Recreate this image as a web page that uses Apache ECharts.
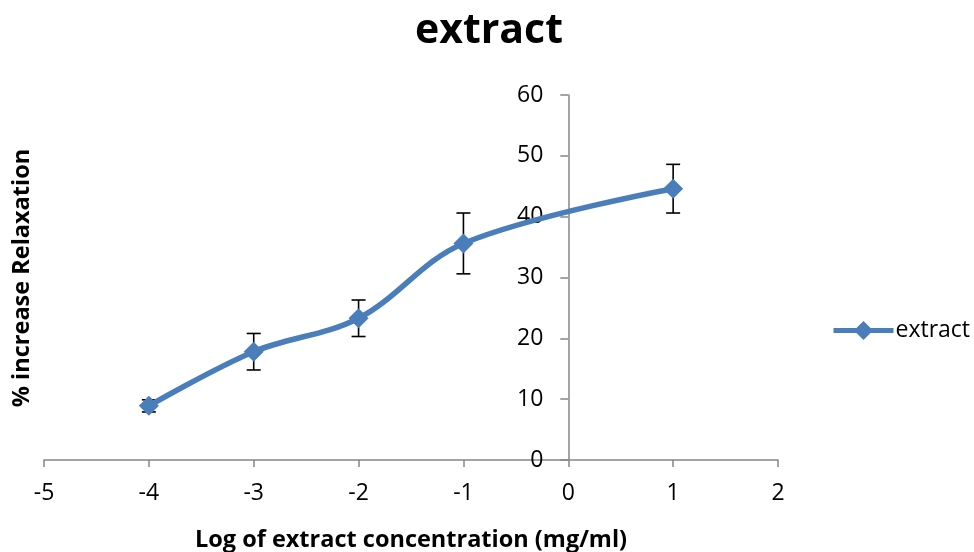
<!DOCTYPE html>
<html>
<head>
<meta charset="utf-8">
<script src="https://cdn.jsdelivr.net/npm/echarts@6/dist/echarts.min.js"></script>
<style>html,body{margin:0;padding:0;background:#fff}#c{width:974px;height:552px}</style>
</head>
<body>
<div id="c"></div>
<script>
var seriesName = 'extract';
var xValues = [-4, -3, -2, -1, 1];
var yValues = [8.9, 17.8, 23.3, 35.6, 44.6];
var errValues = [1.0, 3.0, 3.0, 5.0, 4.0];
var xTicks = {min: -5, max: 2, interval: 1};
var yTicks = {min: 0, max: 60, interval: 10};

var FONT = 'Open Sans';
var GRID = {left: 44, right: 196, top: 95, bottom: 92};
var W = 974;
var plotW = W - GRID.left - GRID.right;
// y axis crosses at x = 0
var yAxisOffset = -plotW * (0 - xTicks.min) / (xTicks.max - xTicks.min);

var lineData = xValues.map(function (x, i) { return [x, yValues[i]]; });
var errData = xValues.map(function (x, i) { return [x, yValues[i] - errValues[i], yValues[i] + errValues[i]]; });

var chart = echarts.init(document.getElementById('c'));
chart.setOption({
  animation: false,
  title: {
    text: 'extract', left: 484, top: 6, textAlign: 'center',
    textStyle: {fontFamily: FONT, fontWeight: 'bold', fontSize: 41, color: '#000'}
  },
  legend: {
    left: 826, top: 314, itemWidth: 60, itemHeight: 24, itemGap: 2,
    data: [seriesName],
    lineStyle: {width: 5},
    textStyle: {fontFamily: FONT, fontSize: 23, color: '#000', padding: [0, 0, 0, -3]}
  },
  graphic: [{
    type: 'text', x: 22, y: 278, rotation: Math.PI / 2,
    style: {text: '% increase Relaxation', fontFamily: FONT, fontWeight: 'bold', fontSize: 23.5,
            fill: '#000', align: 'center', verticalAlign: 'middle'}
  }],
  grid: {left: GRID.left, right: GRID.right, top: GRID.top, bottom: GRID.bottom, containLabel: false, outerBoundsMode: 'none'},
  xAxis: {
    type: 'value', min: xTicks.min, max: xTicks.max, interval: xTicks.interval,
    name: 'Log of extract concentration (mg/ml)', nameLocation: 'middle', nameGap: 68,
    nameTextStyle: {fontFamily: FONT, fontWeight: 'bold', fontSize: 23.5, color: '#000'},
    axisLine: {onZero: true, lineStyle: {color: '#868686', width: 1.5}},
    axisTick: {show: true, inside: false, length: 7, lineStyle: {color: '#868686', width: 1.5}},
    axisLabel: {fontFamily: FONT, fontSize: 23, color: '#000', margin: 22},
    splitLine: {show: false}
  },
  yAxis: {
    type: 'value', min: yTicks.min, max: yTicks.max, interval: yTicks.interval,
    position: 'left', offset: yAxisOffset,
    axisLine: {show: true, onZero: false, lineStyle: {color: '#868686', width: 1.5}},
    axisTick: {show: true, inside: false, length: 8, lineStyle: {color: '#868686', width: 1.5}},
    axisLabel: {fontFamily: FONT, fontSize: 23, color: '#000', margin: 25},
    splitLine: {show: false}
  },
  series: [
    {
      type: 'custom', name: 'err', silent: true, z: 1,
      data: errData,
      renderItem: function (params, api) {
        var x = api.value(0);
        var lo = api.coord([x, api.value(1)]);
        var hi = api.coord([x, api.value(2)]);
        var w = 7;
        var st = {stroke: '#000', lineWidth: 1.6};
        return {
          type: 'group',
          children: [
            {type: 'line', shape: {x1: lo[0], y1: lo[1], x2: hi[0], y2: hi[1]}, style: st},
            {type: 'line', shape: {x1: lo[0] - w, y1: lo[1], x2: lo[0] + w, y2: lo[1]}, style: st},
            {type: 'line', shape: {x1: hi[0] - w, y1: hi[1], x2: hi[0] + w, y2: hi[1]}, style: st}
          ]
        };
      }
    },
    {
      type: 'line', name: seriesName, data: lineData, smooth: 0.35, z: 3,
      symbol: 'diamond', symbolSize: 20,
      lineStyle: {color: '#4A7EBB', width: 5.5},
      itemStyle: {color: '#4A7EBB'}
    }
  ]
});
</script>
</body>
</html>
